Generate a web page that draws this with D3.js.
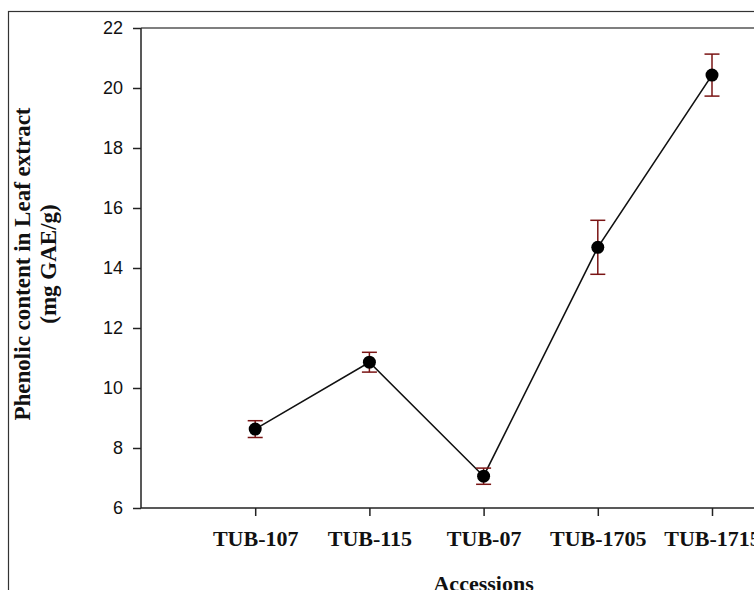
<!DOCTYPE html>
<html lang="en">
  <head>
    <meta charset="utf-8">
    <title>Phenolic content</title>
    <script src="https://d3js.org/d3.v7.js"></script>
    <style>
      body { margin: 0; background: #fff; }
    </style>
  </head>
  <body>
  <script>

// data
  var accessions = ["TUB-107", "TUB-115", "TUB-07", "TUB-1705", "TUB-1715"];
  var phenolic = [8.63, 10.86, 7.06, 14.69, 20.43];
  var stdErr = [0.28, 0.33, 0.27, 0.9, 0.7];
  var yTicks = [6, 8, 10, 12, 14, 16, 18, 20, 22];

  var w = 754;
  var h = 590;
  var margin = {top: 28, left: 141};
  var plotBottom = 508;

  var svg = d3.select("body")
    .append("svg")
      .attr("width", w)
      .attr("height", h);

// outer frame (cut by the page at right and bottom)
  svg.append("rect")
      .attr("x", 8.5)
      .attr("y", 11.5)
      .attr("width", 900)
      .attr("height", 700)
      .attr("fill", "none")
      .attr("stroke", "#333")
      .attr("stroke-width", 1.2);

  var xScale = d3.scaleLinear()
      .domain([0, 6])
      .range([margin.left, margin.left + 6 * 114.2]);

  var yScale = d3.scaleLinear()
      .domain([6, 22])
      .range([plotBottom, margin.top]);

// plot box top line
  svg.append("line")
      .attr("x1", margin.left)
      .attr("x2", w)
      .attr("y1", yScale(22))
      .attr("y2", yScale(22))
      .attr("stroke", "#555")
      .attr("stroke-width", 1.5);

  var yAxis = d3.axisLeft(yScale)
      .tickValues(yTicks)
      .tickSize(8)
      .tickPadding(10);

  var xAxis = d3.axisBottom(xScale)
      .tickValues(d3.range(1, accessions.length + 1))
      .tickFormat(d => accessions[d - 1])
      .tickSize(8)
      .tickPadding(14);

  var gy = svg.append("g")
      .attr("transform", `translate(${margin.left},0)`)
      .call(yAxis);
  gy.select(".domain").attr("d", `M0,${yScale(22)}V${plotBottom}`);
  gy.selectAll("path, line").attr("stroke", "#222").attr("stroke-width", 1.5);
  gy.selectAll("text")
      .attr("font-family", "Liberation Sans, Arial, sans-serif")
      .attr("font-size", 18)
      .attr("fill", "#111");

  var gx = svg.append("g")
      .attr("transform", `translate(0,${plotBottom})`)
      .call(xAxis);
  gx.select(".domain").attr("d", `M${margin.left},0H${w + 10}`);
  gx.selectAll("path, line").attr("stroke", "#222").attr("stroke-width", 1.5);
  gx.selectAll("text")
      .attr("font-family", "Liberation Serif, Times New Roman, serif")
      .attr("font-weight", "bold")
      .attr("font-size", 22)
      .attr("fill", "#111");

// axis titles
  svg.append("text")
      .attr("transform", "translate(30,264) rotate(-90)")
      .attr("text-anchor", "middle")
      .attr("font-family", "Liberation Serif, Times New Roman, serif")
      .attr("font-weight", "bold")
      .attr("font-size", 23)
      .attr("fill", "#111")
      .text("Phenolic content in Leaf extract");

  svg.append("text")
      .attr("transform", "translate(56,264) rotate(-90)")
      .attr("text-anchor", "middle")
      .attr("font-family", "Liberation Serif, Times New Roman, serif")
      .attr("font-weight", "bold")
      .attr("font-size", 23)
      .attr("fill", "#111")
      .text("(mg GAE/g)");

  svg.append("text")
      .attr("x", xScale(3))
      .attr("y", 591)
      .attr("text-anchor", "middle")
      .attr("font-family", "Liberation Serif, Times New Roman, serif")
      .attr("font-weight", "bold")
      .attr("font-size", 22)
      .attr("fill", "#111")
      .text("Accessions");

  var points = phenolic.map((v, i) => ({x: i + 1, y: v, e: stdErr[i]}));

// connecting line
  svg.append("path")
      .datum(points)
      .attr("fill", "none")
      .attr("stroke", "#111")
      .attr("stroke-width", 1.6)
      .attr("d", d3.line().x(d => xScale(d.x)).y(d => yScale(d.y)));

// error bars
  var err = svg.append("g")
      .attr("stroke", "#7a1414")
      .attr("stroke-width", 1.5);

  err.selectAll(".stem")
    .data(points)
    .enter().append("line")
      .attr("x1", d => xScale(d.x))
      .attr("x2", d => xScale(d.x))
      .attr("y1", d => yScale(d.y - d.e))
      .attr("y2", d => yScale(d.y + d.e));

  err.selectAll(".capTop")
    .data(points)
    .enter().append("line")
      .attr("x1", d => xScale(d.x) - 7.5)
      .attr("x2", d => xScale(d.x) + 7.5)
      .attr("y1", d => yScale(d.y + d.e))
      .attr("y2", d => yScale(d.y + d.e));

  err.selectAll(".capBottom")
    .data(points)
    .enter().append("line")
      .attr("x1", d => xScale(d.x) - 7.5)
      .attr("x2", d => xScale(d.x) + 7.5)
      .attr("y1", d => yScale(d.y - d.e))
      .attr("y2", d => yScale(d.y - d.e));

// markers
  svg.selectAll("circle")
    .data(points)
    .enter().append("circle")
      .attr("cx", d => xScale(d.x))
      .attr("cy", d => yScale(d.y))
      .attr("r", 6.5)
      .attr("fill", "#000");

  </script>
  </body>
</html>
